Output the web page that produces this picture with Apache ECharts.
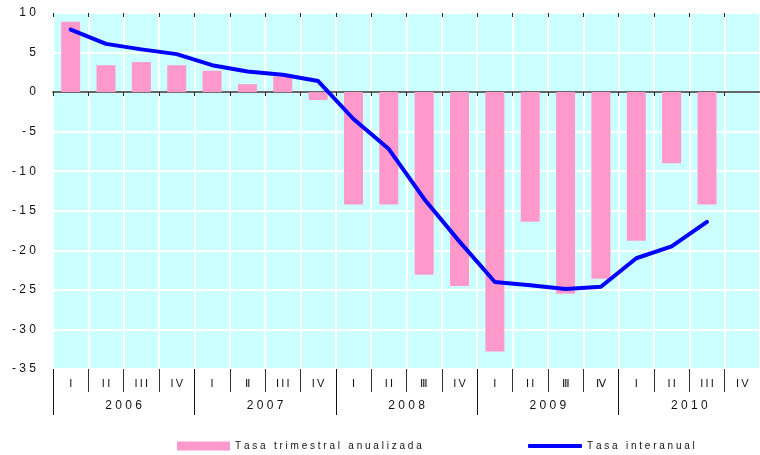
<!DOCTYPE html>
<html>
<head>
<meta charset="utf-8">
<script src="https://cdn.jsdelivr.net/npm/echarts@6/dist/echarts.min.js"></script>
<style>
	html, body { margin: 0; padding: 0; background: #fff; }
	#chart { width: 760px; height: 455px; }
</style>
</head>
<body>
<div id="chart"></div>
<script>
const quarters = ['I', 'II', 'III', 'IV', 'I', 'Ⅱ', 'III', 'IV', 'I', 'II', 'Ⅲ', 'IV', 'I', 'II', 'Ⅲ', 'Ⅳ', 'I', 'II', 'III', 'IV']
const years = ['2006', '2007', '2008', '2009', '2010']

// tasa trimestral anualizada (bars)
const trimestral = [8.9, 3.4, 3.8, 3.4, 2.7, 1.0, 2.0, -1.0, -14.2, -14.2, -23.1, -24.5, -32.8, -16.4, -25.5, -23.6, -18.8, -9.0, -14.2, null]
// tasa interanual (line)
const interanual = [7.9, 6.1, 5.4, 4.8, 3.4, 2.6, 2.2, 1.4, -3.4, -7.2, -13.5, -18.9, -24.0, -24.4, -24.9, -24.6, -21.0, -19.5, -16.4, null]

const yTicks = { min: -35, max: 10, interval: 5 }

const FONT = '"Liberation Sans", Arial, sans-serif'

// the original renders its labels letter-spaced
const thin = s => s.split('').join('\u2009')
const wide = s => s.split('').join(' ')

const names = {
	bar: 'Tasa trimestral anualizada',
	line: 'Tasa interanual'
}

const myChart = echarts.init(document.getElementById('chart'), null, { renderer: 'canvas' })

myChart.setOption({
	animation: false,
	textStyle: { fontFamily: FONT },
	grid: {
		left: 53,
		top: 13,
		width: 715,
		height: 356,
		show: true,
		backgroundColor: '#CCFFFF',
		borderWidth: 0
	},
	legend: [
		{
			left: 177,
			top: 441,
			padding: 0,
			data: [names.bar],
			icon: 'rect',
			itemWidth: 53,
			itemHeight: 9,
			formatter: n => wide(n),
			textStyle: { fontSize: 10, color: '#111', fontFamily: FONT }
		},
		{
			left: 528,
			top: 441,
			padding: 0,
			data: [names.line],
			icon: 'roundRect',
			itemWidth: 54,
			itemHeight: 4,
			formatter: n => wide(n),
			textStyle: { fontSize: 10, color: '#111', fontFamily: FONT }
		}
	],
	xAxis: [
		{
			// zero line with ticks below it
			type: 'category',
			data: quarters,
			axisLine: { onZero: true, lineStyle: { color: '#666', width: 2 } },
			axisTick: { show: true, interval: 0, length: 4, lineStyle: { color: '#222' } },
			axisLabel: { show: false },
			splitLine: { show: false }
		},
		{
			// quarter labels under the plot, with the white vertical grid lines
			type: 'category',
			data: quarters,
			position: 'bottom',
			axisLine: { show: false, onZero: false },
			axisTick: { show: true, interval: 0, length: 23, lineStyle: { color: '#333' } },
			axisLabel: {
				interval: 0,
				margin: 9,
				fontSize: 11,
				color: '#111',
				formatter: v => thin(v)
			},
			splitLine: { show: true, interval: 0, lineStyle: { color: '#fff', width: 2 } }
		},
		{
			// years
			type: 'category',
			data: years,
			position: 'bottom',
			axisLine: { show: false, onZero: false },
			axisTick: { show: true, interval: 0, length: 46, lineStyle: { color: '#111' } },
			axisLabel: {
				interval: 0,
				margin: 31,
				fontSize: 12,
				color: '#111',
				formatter: v => wide(v)
			},
			splitLine: { show: false }
		},
		{
			// ticks above the zero line
			type: 'category',
			data: quarters,
			axisLine: { show: false, onZero: true },
			axisTick: { show: true, inside: true, interval: 0, length: 4, lineStyle: { color: '#222' } },
			axisLabel: { show: false },
			splitLine: { show: false }
		}
	],
	yAxis: {
		type: 'value',
		...yTicks,
		axisLine: { show: false },
		axisTick: { show: false },
		axisLabel: {
			margin: 17,
			fontSize: 12,
			color: '#111',
			formatter: v => wide(String(v))
		},
		splitLine: { show: true, lineStyle: { color: '#fff', width: 2 } }
	},
	series: [
		{
			name: names.bar,
			type: 'bar',
			xAxisIndex: 0,
			data: trimestral,
			barWidth: 19,
			itemStyle: { color: '#FF99CC' }
		},
		{
			name: names.line,
			type: 'line',
			xAxisIndex: 0,
			data: interanual,
			showSymbol: false,
			symbol: 'none',
			itemStyle: { color: '#0000FF' },
			lineStyle: { color: '#0000FF', width: 4, cap: 'round', join: 'round' },
			z: 5
		}
	]
})
</script>
</body>
</html>
